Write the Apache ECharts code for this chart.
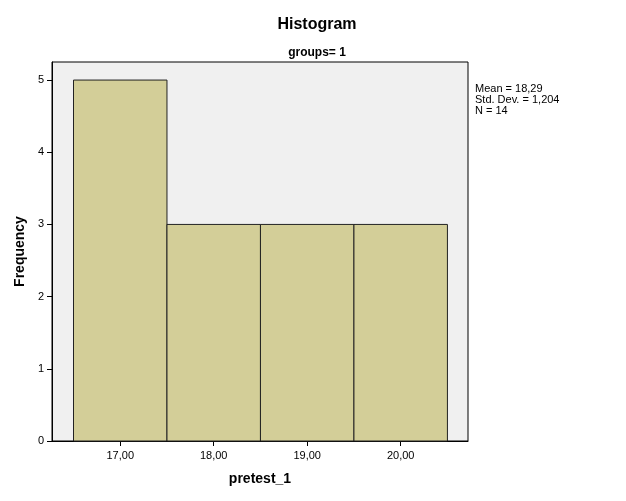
<!DOCTYPE html>
<html><head><meta charset="utf-8">
<script src="https://cdn.jsdelivr.net/npm/echarts@6/dist/echarts.min.js"></script>
<style>html,body{margin:0;padding:0;background:#fff}#c{width:626px;height:501px}</style>
</head><body><div id="c"></div>
<script>
const binStarts = [16.5, 17.5, 18.5, 19.5];
const binEnds = [17.5, 18.5, 19.5, 20.5];
const frequencies = [5, 3, 3, 3];
const xTicks = [17, 18, 19, 20];
const yTicks = [0, 1, 2, 3, 4, 5];
const statsLines = ['Mean = 18,29', 'Std. Dev. = 1,204', 'N = 14'];

const data = binStarts.map((s, i) => [s, binEnds[i], frequencies[i]]);
const font = 'Arial, "Liberation Sans", sans-serif';
const chart = echarts.init(document.getElementById('c'));
chart.setOption({
  animation: false,
  title: [
    {text: 'Histogram', left: 312, top: 12, textAlign: 'center',
     textStyle: {fontFamily: font, fontSize: 16, fontWeight: 'bold', color: '#000'}},
    {text: 'groups= 1', left: 312, top: 42, textAlign: 'center',
     textStyle: {fontFamily: font, fontSize: 12, fontWeight: 'bold', color: '#000'}}
  ],
  graphic: [{
    type: 'text', left: 475, top: 83,
    style: {text: statsLines.join('\n'), font: '11px ' + font, fill: '#000', lineHeight: 11}
  }],
  grid: {left: 52, right: 158, top: 62, bottom: 60, show: true,
         backgroundColor: '#f0f0f0', borderColor: '#000', borderWidth: 1},
  xAxis: {
    type: 'value', min: 16.27, max: 20.72,
    name: 'pretest_1', nameLocation: 'middle', nameGap: 31,
    nameTextStyle: {fontFamily: font, fontSize: 14, fontWeight: 'bold', color: '#000'},
    axisLine: {show: true, lineStyle: {color: '#000'}},
    axisTick: {show: true, inside: false, length: 5, customValues: xTicks, lineStyle: {color: '#000'}},
    axisLabel: {customValues: xTicks, formatter: v => v.toFixed(2).replace('.', ','),
                fontFamily: font, fontSize: 11, color: '#000', margin: 9},
    splitLine: {show: false}
  },
  yAxis: {
    type: 'value', min: 0, max: 5.25,
    name: 'Frequency', nameLocation: 'middle', nameGap: 21,
    nameTextStyle: {fontFamily: font, fontSize: 14, fontWeight: 'bold', color: '#000'},
    axisLine: {show: true, lineStyle: {color: '#000'}},
    axisTick: {show: true, inside: false, length: 5, customValues: yTicks, lineStyle: {color: '#000'}},
    axisLabel: {customValues: yTicks, fontFamily: font, fontSize: 11, color: '#000', margin: 8},
    splitLine: {show: false}
  },
  series: [{
    type: 'custom',
    data: data,
    encode: {x: [0, 1], y: 2},
    renderItem: function (params, api) {
      const p0 = api.coord([api.value(0), 0]);
      const p1 = api.coord([api.value(1), api.value(2)]);
      return {
        type: 'rect',
        shape: {x: p0[0], y: p1[1], width: p1[0] - p0[0], height: p0[1] - p1[1]},
        style: {fill: '#d3ce98', stroke: '#222', lineWidth: 1}
      };
    }
  }]
});
</script></body></html>
